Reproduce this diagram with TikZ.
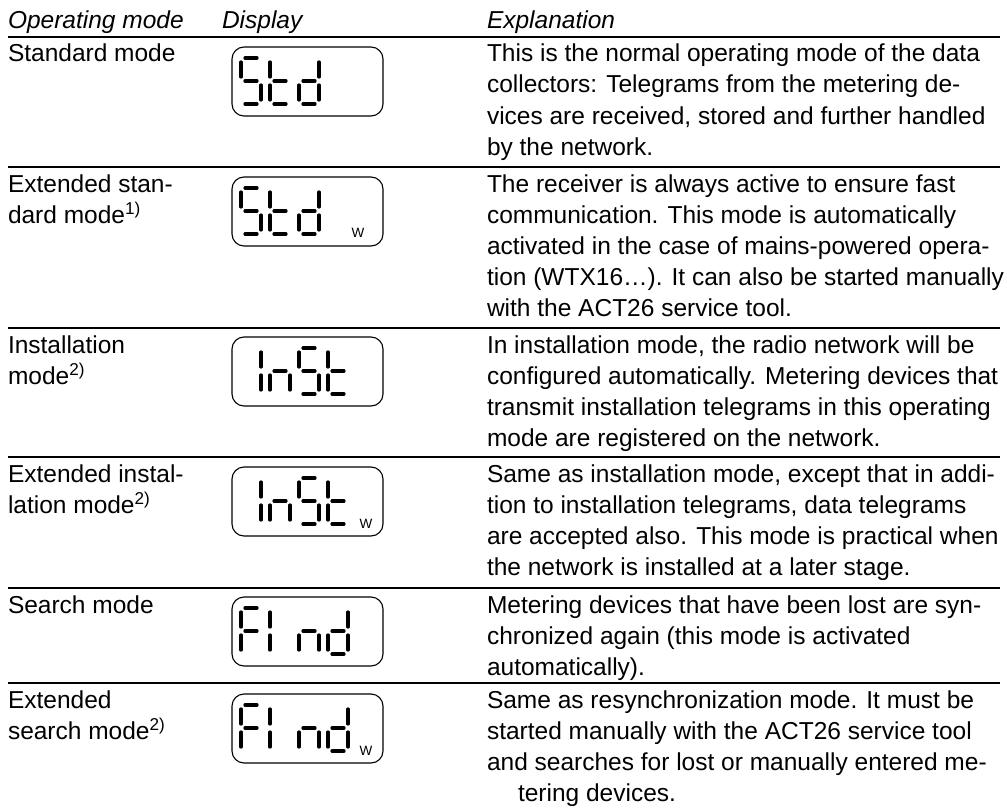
\documentclass[tikz,border=0pt]{standalone}
\usepackage{fontspec}
\setmainfont{Liberation Sans}
\begin{document}
\begin{tikzpicture}[x=1bp,y=-1bp,
  every node/.style={inner sep=0pt,outer sep=0pt},
  cell/.style={anchor=base west,align=left,font=\fontsize{24.5bp}{31bp}\selectfont},
  head/.style={cell,font=\fontsize{24.5bp}{31bp}\selectfont\itshape},
  rule/.style={line width=2.6bp},
  lcdbox/.style={draw,line width=1.1bp,rounded corners=12bp,minimum width=151bp,minimum height=69bp,anchor=north west},
  seg/.style={line width=3.2bp,line cap=round},
  mains/.style={anchor=base,font=\fontsize{13.5bp}{13.5bp}\selectfont},
  lcd S/.pic={\draw[seg] (4,0) -- (16,0) (0,4) -- (0,19) (4,23) -- (16,23) (20,27) -- (20,42) (4,46) -- (16,46);},
  lcd t/.pic={\draw[seg] (0,4) -- (0,19) (0,27) -- (0,42) (4,23) -- (16,23) (4,46) -- (16,46);},
  lcd d/.pic={\draw[seg] (20,4) -- (20,19) (20,27) -- (20,42) (4,46) -- (16,46) (0,27) -- (0,42) (4,23) -- (16,23);},
  lcd n/.pic={\draw[seg] (0,27) -- (0,42) (4,23) -- (16,23) (20,27) -- (20,42);},
  lcd F/.pic={\draw[seg] (4,0) -- (16,0) (0,4) -- (0,19) (4,23) -- (16,23) (0,27) -- (0,42);},
  lcd I right/.pic={\draw[seg] (20,4) -- (20,19) (20,27) -- (20,42);},
  lcd I left/.pic={\draw[seg] (0,4) -- (0,19) (0,27) -- (0,42);},
]
\useasboundingbox (0,0) rectangle (1007,810);
%% multi-line cells sit on the baseline of their last line
\node (hd_mode) at (8,29) [head] {Operating mode};
  \node (hd_display) at (222,29) [head] {Display};
  \node (hd_expl) at (487,29) [head] {Explanation};
  \draw [rule] (8,37) -- (1000,37);
  \draw [rule] (8,167) -- (1000,167);
  \draw [rule] (8,328) -- (1000,328);
  \draw [rule] (8,457) -- (1000,457);
  \draw [rule] (8,588) -- (1000,588);
  \draw [rule] (8,683) -- (1000,683);
%
\node (std_mode) at (8,62) [cell] {Standard mode};
  \node (std_box) at (232,47) [lcdbox] {};
  \pic at (241,58) {lcd S};
  \pic at (270,58) {lcd t};
  \pic at (299,58) {lcd d};
  \node (std_text) at (487,155) [cell] {This is the normal operating mode of the data\\
    collectors: Telegrams from the metering de-\\
    vices are received, stored and further handled\\
    by the network.};
%
\node (xstd_mode) at (8,223) [cell] {Extended stan-\\dard mode\textsuperscript{1)}};
  \node (xstd_box) at (232,177) [lcdbox] {};
  \pic at (241,188) {lcd S};
  \pic at (270,188) {lcd t};
  \pic at (299,188) {lcd d};
  \node (xstd_w) at (358,237) [mains] {W};
  \node (xstd_text) at (487,316) [cell] {The receiver is always active to ensure fast\\
    communication. This mode is automatically\\
    activated in the case of mains-powered opera-\\
    tion (WTX16…). It can also be started manually\\
    with the ACT26 service tool.};
%
\node (inst_mode) at (8,384) [cell] {Installation\\mode\textsuperscript{2)}};
  \node (inst_box) at (232,337) [lcdbox] {};
  \pic at (241,348) {lcd I right};
  \pic at (270,348) {lcd n};
  \pic at (299,348) {lcd S};
  \pic at (328,348) {lcd t};
  \node (inst_text) at (487,446) [cell] {In installation mode, the radio network will be\\
    configured automatically. Metering devices that\\
    transmit installation telegrams in this operating\\
    mode are registered on the network.};
%
\node (xinst_mode) at (8,513) [cell] {Extended instal-\\lation mode\textsuperscript{2)}};
  \node (xinst_box) at (232,467) [lcdbox] {};
  \pic at (241,478) {lcd I right};
  \pic at (270,478) {lcd n};
  \pic at (299,478) {lcd S};
  \pic at (328,478) {lcd t};
  \node (xinst_w) at (366,528) [mains] {W};
  \node (xinst_text) at (487,575) [cell] {Same as installation mode, except that in addi-\\
    tion to installation telegrams, data telegrams\\
    are accepted also. This mode is practical when\\
    the network is installed at a later stage.};
%
\node (find_mode) at (8,613) [cell] {Search mode};
  \node (find_box) at (232,597) [lcdbox] {};
  \pic at (241,608) {lcd F};
  \pic at (270,608) {lcd I left};
  \pic at (299,608) {lcd n};
  \pic at (328,608) {lcd d};
  \node (find_text) at (487,675) [cell] {Metering devices that have been lost are syn-\\
    chronized again (this mode is activated\\
    automatically).};
%
\node (xfind_mode) at (8,739) [cell] {Extended\\search mode\textsuperscript{2)}};
  \node (xfind_box) at (232,694) [lcdbox] {};
  \pic at (241,705) {lcd F};
  \pic at (270,705) {lcd I left};
  \pic at (299,705) {lcd n};
  \pic at (328,705) {lcd d};
  \node (xfind_w) at (366,755) [mains] {W};
  \node (xfind_text) at (487,801) [cell] {Same as resynchronization mode. It must be\\
    started manually with the ACT26 service tool\\
    and searches for lost or manually entered me-\\
    \hspace*{31bp}tering devices.};
%
\end{tikzpicture}
\end{document}
